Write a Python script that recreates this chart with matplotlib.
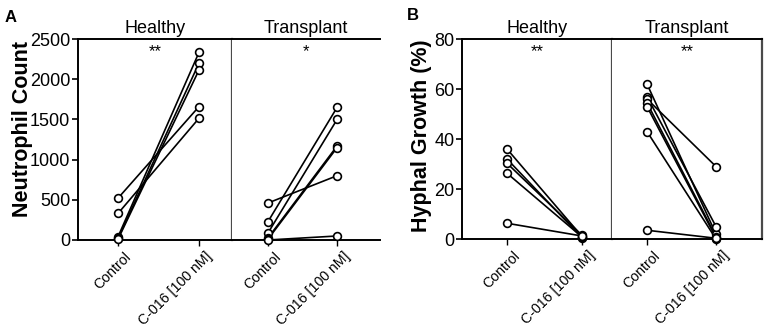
import matplotlib
matplotlib.use("Agg")
import matplotlib.pyplot as plt
from matplotlib.transforms import ScaledTranslation

plt.rcParams['font.family'] = ['Liberation Sans', 'DejaVu Sans']

categories = ["Control", "C-016 [100 nM]"]
groups = ["Healthy", "Transplant"]

# Panel A: Neutrophil count
a_healthy_control = [520, 330, 40, 20, 10]
a_healthy_c016 = [1660, 1515, 2335, 2200, 2115]
a_transplant_control = [460, 228, 87, 25, 10, 0]
a_transplant_c016 = [800, 1650, 1500, 1170, 1150, 50]
a_yticks = [0, 500, 1000, 1500, 2000, 2500]
a_sig = ["**", "*"]

# Panel B: Hyphal growth (%)
b_healthy_control = [36, 32, 30.3, 26.3, 6.3]
b_healthy_c016 = [1.0, 0.5, 1.5, 0.8, 1.2]
b_transplant_control = [62, 57, 56, 54.5, 53, 43, 3.5]
b_transplant_c016 = [2, 5, 29, 1, 0.5, 0, 0.3]
b_yticks = [0, 20, 40, 60, 80]
b_sig = ["**", "**"]

W, H = 765, 327
fig = plt.figure(figsize=(W / 100, H / 100), dpi=100)


def ax_px(x0, x1, ytop, ybot):
    return fig.add_axes([x0 / W, 1 - ybot / H, (x1 - x0) / W, (ybot - ytop) / H])


def draw(ax, ctrl, trt, xlim, ylim, yticks, title, sig, first, right_spine, divider_color="#4a4a4a"):
    for c, t in zip(ctrl, trt):
        ax.plot([0, 1], [c, t], color="black", lw=1.2, zorder=2, clip_on=False)
    ax.plot([0] * len(ctrl), ctrl, 'o', ms=5.6, mfc="white", mec="black", mew=1.2,
            zorder=3, clip_on=False)
    ax.plot([1] * len(trt), trt, 'o', ms=5.6, mfc="white", mec="black", mew=1.2,
            zorder=3, clip_on=False)
    ax.set_xlim(*xlim)
    ax.set_ylim(*ylim)
    ax.set_xticks([0, 1])
    ax.set_xticklabels(categories, rotation=45, ha="right", va="top",
                       rotation_mode="anchor", fontsize=10.2)
    ax.tick_params(axis="x", length=4, width=1.0, pad=3)
    offset = ScaledTranslation(6 / 100, 0, fig.dpi_scale_trans)
    for lab in ax.get_xticklabels():
        lab.set_transform(lab.get_transform() + offset)
    for s in ["top", "bottom"]:
        ax.spines[s].set_linewidth(1.4)
        ax.spines[s].set_color("black")
    if first:
        ax.spines["left"].set_linewidth(1.4)
        ax.spines["left"].set_color("black")
        ax.set_yticks(yticks)
        ax.set_yticklabels([str(v) for v in yticks], fontsize=13)
        ax.tick_params(axis="y", length=4, width=1.2, pad=1.5)
        ax.spines["right"].set_color(divider_color)
        ax.spines["right"].set_linewidth(1.6)
    else:
        ax.spines["left"].set_visible(False)
        ax.set_yticks([])
        if right_spine:
            ax.spines["right"].set_color(divider_color)
            ax.spines["right"].set_linewidth(1.6)
        else:
            ax.spines["right"].set_visible(False)
    ax.set_title(title, fontsize=13, pad=4)
    ax.text(0.5, 0.975, sig, transform=ax.transAxes, ha="center", va="top", fontsize=12)


top, bot = 39, 240
axA1 = ax_px(78, 232, top, bot)
axA2 = ax_px(232, 380, top, bot)
draw(axA1, a_healthy_control, a_healthy_c016, (-0.494, 1.407), (0, 2500), a_yticks,
     groups[0], a_sig[0], True, False)
draw(axA2, a_transplant_control, a_transplant_c016, (-0.52, 1.62), (0, 2500), a_yticks,
     groups[1], a_sig[1], False, False)
axA1.set_ylabel("Neutrophil Count", fontsize=15.5, fontweight="bold")
axA1.yaxis.set_label_coords(-0.29, 0.55)

axB1 = ax_px(462, 612, top, 239)
axB2 = ax_px(612, 762, top, 239)
draw(axB1, b_healthy_control, b_healthy_c016, (-0.6, 1.4), (0, 80), b_yticks,
     groups[0], b_sig[0], True, False)
draw(axB2, b_transplant_control, b_transplant_c016, (-0.507, 1.667), (0, 80), b_yticks,
     groups[1], b_sig[1], False, True)
axB1.set_ylabel("Hyphal Growth (%)", fontsize=15.5, fontweight="bold")
axB1.yaxis.set_label_coords(-0.2, 0.515)

fig.text(5 / W, 1 - 17 / H, "A", fontsize=12, fontweight="bold", va="center", ha="left")
fig.text(407 / W, 1 - 15 / H, "B", fontsize=12, fontweight="bold", va="center", ha="left")

fig.savefig("out.png", dpi=100)
